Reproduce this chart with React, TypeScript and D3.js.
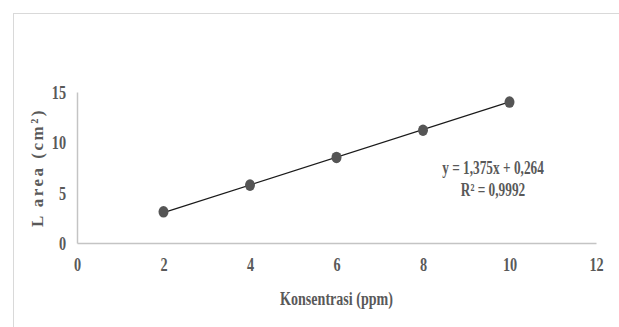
import { useRef, useEffect } from 'react';
import { select, scaleLinear, axisBottom, axisLeft } from 'd3';

const concentrations = [2, 4, 6, 8, 10];
const areas = [3.1, 5.75, 8.5, 11.2, 14.0];
const xTicks = [0, 2, 4, 6, 8, 10, 12];
const yTicks = [0, 5, 10, 15];
const slope = 1.375;
const intercept = 0.264;
const equationLines = ['y = 1,375x + 0,264', 'R² = 0,9992'];

export default function App() {
    const svgRef: { current: SVGSVGElement | null } = useRef(null);

    useEffect(() => {
        const width = 619;
        const height = 327;
        const margin = { left: 77, right: 23, top: 92, bottom: 84 };
        const svg = select(svgRef.current);
        svg.selectAll('*').remove();

        const font = '"Liberation Serif", "Times New Roman", serif';
        const grey = '#595959';

        // chart frame
        svg.append('rect')
            .attr('x', 13.5)
            .attr('y', 13.5)
            .attr('width', width)
            .attr('height', height)
            .attr('fill', 'white')
            .attr('stroke', '#d9d9d9');

        const xScale = scaleLinear().domain([0, 12]).range([margin.left, width - margin.right]);
        const yScale = scaleLinear().domain([0, 15]).range([height - margin.bottom, margin.top]);

        const xAxis: any = axisBottom(xScale).tickValues(xTicks).tickSize(0).tickPadding(15);
        const yAxis: any = axisLeft(yScale).tickValues(yTicks).tickSize(0).tickPadding(11);

        const gx = svg.append('g').attr('transform', `translate(0,${yScale(0)})`).call(xAxis);
        const gy = svg.append('g').attr('transform', `translate(${xScale(0)},0)`).call(yAxis);

        [gx, gy].forEach((g) => {
            g.select('.domain').attr('stroke', '#c4c4c4').attr('stroke-width', 1.5);
            g.selectAll('text')
                .attr('fill', grey)
                .style('font-family', font)
                .style('font-size', '19px')
                .style('font-weight', 'bold');
        });
        gx.selectAll('.tick text').attr('transform', 'scale(0.75,1)');
        gy.selectAll('.tick text')
            .attr('dy', '0.35em')
            .attr('transform', 'translate(-11,0) scale(0.75,1)')
            .attr('x', 0);

        // trendline
        svg.append('line')
            .attr('x1', xScale(concentrations[0]))
            .attr('y1', yScale(slope * concentrations[0] + intercept))
            .attr('x2', xScale(concentrations[concentrations.length - 1]))
            .attr('y2', yScale(slope * concentrations[concentrations.length - 1] + intercept))
            .attr('stroke', '#1a1a1a')
            .attr('stroke-width', 1.2);

        svg.selectAll('.dot')
            .data(concentrations)
            .join('ellipse')
            .attr('class', 'dot')
            .attr('cx', (d) => xScale(d))
            .attr('cy', (d, i) => yScale(areas[i]))
            .attr('rx', 5)
            .attr('ry', 5.8)
            .attr('fill', '#555555');

        // equation
        const eq = svg.append('text')
            .attr('transform', `translate(493,0) scale(0.74,1)`)
            .attr('text-anchor', 'middle')
            .attr('fill', grey)
            .style('font-family', font)
            .style('font-size', '18px')
            .style('font-weight', 'bold');
        equationLines.forEach((line, i) => {
            eq.append('tspan').attr('x', 0).attr('y', 174 + i * 22).text(line);
        });

        // x title
        svg.append('text')
            .attr('transform', `translate(${(xScale(0) + xScale(12)) / 2},305) scale(0.74,1)`)
            .attr('text-anchor', 'middle')
            .attr('fill', grey)
            .style('font-family', font)
            .style('font-size', '19px')
            .style('font-weight', 'bold')
            .text('Konsentrasi (ppm)');

        // y title
        svg.append('text')
            .attr('transform', `translate(43,${(yScale(0) + yScale(15)) / 2}) rotate(-90)`)
            .attr('text-anchor', 'middle')
            .attr('fill', grey)
            .style('font-family', font)
            .style('font-size', '17px')
            .style('font-weight', 'bold')
            .style('letter-spacing', '2.5px')
            .text('L area (cm²)');
    }, []);

    return (
        <div style={{ position: 'absolute', left: 0, top: 0 }}>
            <svg ref={svgRef} width={619} height={327} style={{ display: 'block' }} />
        </div>
    );
}
